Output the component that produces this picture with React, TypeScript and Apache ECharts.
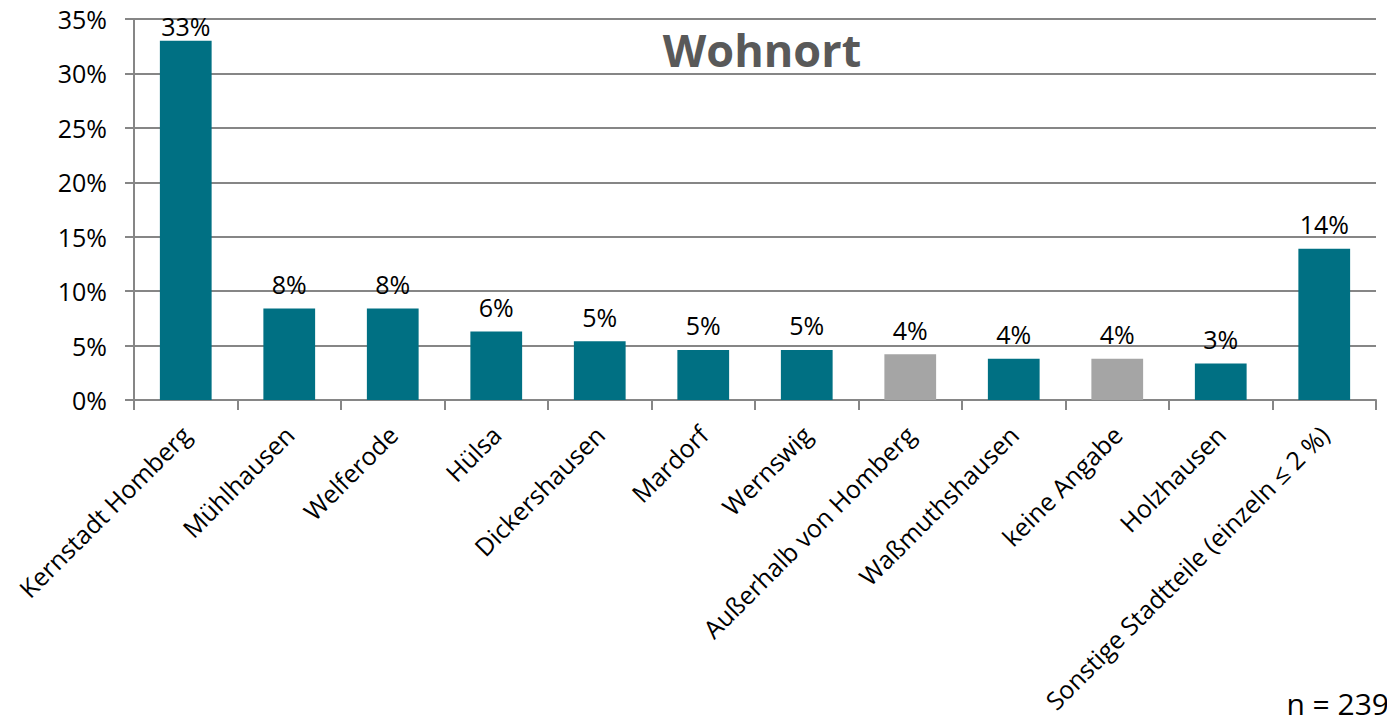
import React, { useEffect, useRef } from "react";
import * as echarts from "echarts";

const categories = [
  "Kernstadt Homberg",
  "Mühlhausen",
  "Welferode",
  "Hülsa",
  "Dickershausen",
  "Mardorf",
  "Wernswig",
  "Außerhalb von Homberg",
  "Waßmuthshausen",
  "keine Angabe",
  "Holzhausen",
  "Sonstige Stadtteile (einzeln ≤ 2 %)",
];
const values = [33.0, 8.4, 8.4, 6.3, 5.4, 4.6, 4.6, 4.2, 3.8, 3.8, 3.35, 13.9];
const labels = ["33%", "8%", "8%", "6%", "5%", "5%", "5%", "4%", "4%", "4%", "3%", "14%"];
const grayCategories = ["Außerhalb von Homberg", "keine Angabe"];
const title = "Wohnort";
const note = "n = 239";

const TEAL = "#007083";
const GRAY = "#A5A5A5";
const FONT = "'Open Sans', 'Noto Sans', sans-serif";

export default function App() {
  const ref = useRef<HTMLDivElement>(null);
  useEffect(() => {
    if (!ref.current) return;
    const chart = echarts.init(ref.current, undefined, { renderer: "svg" });
    chart.setOption({
      animation: false,
      textStyle: { fontFamily: FONT },
      title: {
        text: title,
        left: 757,
        top: 22,
        textAlign: "center",
        textStyle: { fontFamily: FONT, fontSize: 45, fontWeight: "bold", color: "#595959" },
      },
      graphic: [
        {
          type: "text",
          right: 6,
          bottom: 6,
          style: { text: note, font: `30px ${FONT}`, fill: "#000" },
        },
      ],
      grid: { left: 134, right: 19, top: 19, bottom: 324, containLabel: false },
      xAxis: {
        type: "category",
        data: categories,
        axisLine: { lineStyle: { color: "#868686", width: 2 } },
        axisTick: { show: true, alignWithLabel: false, length: 10, lineStyle: { color: "#868686", width: 2 } },
        axisLabel: {
          rotate: 45,
          interval: 0,
          margin: 30,
          fontSize: 25,
          color: "#000",
          fontFamily: FONT,
        },
      },
      yAxis: {
        type: "value",
        min: 0,
        max: 35,
        interval: 5,
        axisLine: { show: true, lineStyle: { color: "#868686", width: 2 } },
        axisTick: { show: true, length: 9, lineStyle: { color: "#868686", width: 2 } },
        splitLine: { lineStyle: { color: "#868686", width: 2 } },
        axisLabel: {
          formatter: "{value}%",
          fontSize: 25,
          color: "#000",
          margin: 27,
          fontFamily: FONT,
        },
      },
      series: [
        {
          type: "bar",
          barWidth: "50%",
          data: values.map((v, i) => ({
            value: v,
            itemStyle: { color: grayCategories.includes(categories[i]) ? GRAY : TEAL },
            label: { distance: v > 30 ? 2 : 12 },
          })),
          label: {
            show: true,
            position: "top",
            distance: 12,
            fontSize: 25,
            color: "#000",
            fontFamily: FONT,
            formatter: (p: any) => labels[p.dataIndex],
          },
        },
      ],
    });
    return () => chart.dispose();
  }, []);
  return <div ref={ref} style={{ width: 1395, height: 724, margin: -8 }} />;
}
